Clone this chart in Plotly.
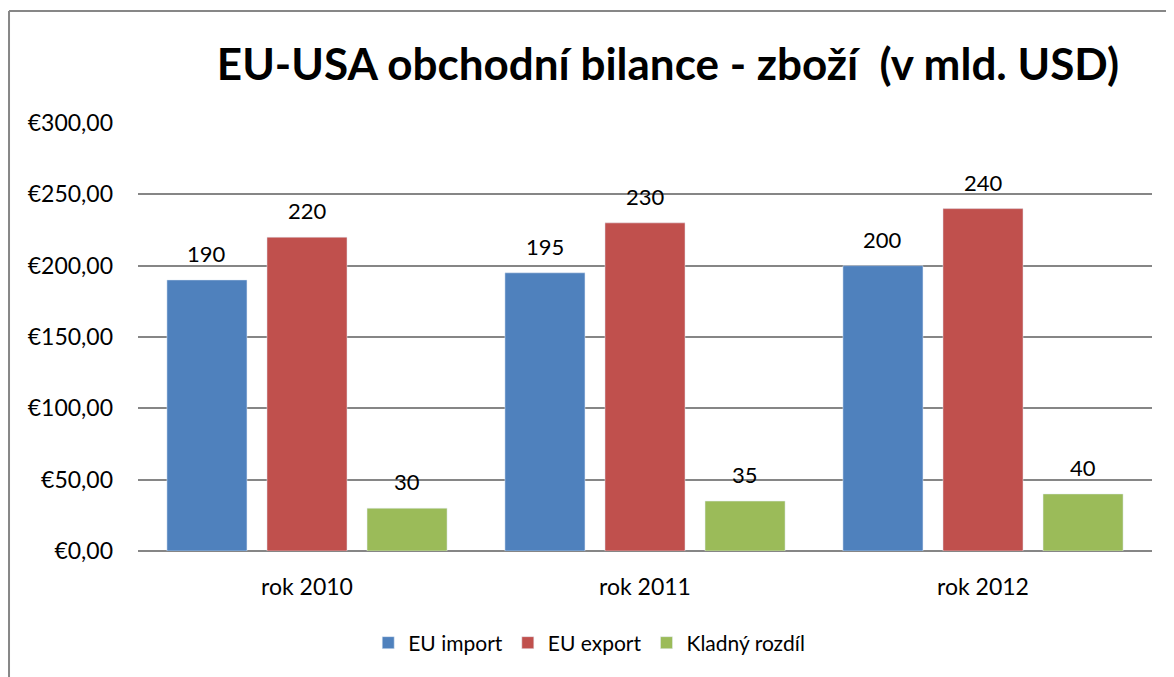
"""EU-USA goods trade balance chart — import, export and surplus bars per year.

Values are in billions of USD, one group of three bars per calendar year.
"""

from __future__ import annotations

import plotly.graph_objects as go

C_IMPORT = "#4F81BD"
C_EXPORT = "#C0504D"
C_DIFF = "#9BBB59"
C_GRID = "#868686"

FONT = "Lato"

BARGAP = 0.112
YEARS = ["rok 2010", "rok 2011", "rok 2012"]
SERIES = {
    "EU import": [190, 195, 200],
    "EU export": [220, 230, 240],
    "Kladný rozdíl": [30, 35, 40],
}


def build_trade_figure() -> go.Figure:
    """Grouped yearly import/export/surplus bars with a framed chart area."""
    fig = go.Figure()
    slot = (1.0 - BARGAP) / len(SERIES)  # width of one trace slot, in category units
    for k, ((name, ys), color) in enumerate(
        zip(SERIES.items(), (C_IMPORT, C_EXPORT, C_DIFF))
    ):
        fig.add_trace(go.Bar(x=YEARS, y=ys, name=name, marker_color=color))
        for i, v in enumerate(ys):  # value labels, lifted a bit above the bar
            fig.add_annotation(
                x=i + (k - 1) * slot, y=v, text=str(v),
                showarrow=False, yanchor="bottom", yshift=11,
                font=dict(size=22, color="black"),
            )
    fig.update_layout(
        barmode="group",
        bargap=BARGAP,
        bargroupgap=0.2,
        width=1166,
        height=669,
        margin=dict(l=130, r=22, t=115, b=126),
        separators=", ",
        font=dict(family=FONT, color="black"),
        plot_bgcolor="white",
        paper_bgcolor="white",
        showlegend=True,
        title=dict(
            text="<b>EU-USA obchodní bilance - zboží  (v mld. USD)</b>",
            x=0.566, xanchor="center",
            y=0.915, yanchor="middle",
            font=dict(size=44, family=FONT, color="black"),
        ),
        legend=dict(
            orientation="h",
            x=0.445, xanchor="center",
            y=-0.215, yanchor="middle",
            font=dict(size=21),
            itemwidth=30,
            traceorder="normal",
        ),
        shapes=[  # frame of the chart area, cut by the window on right/bottom
            dict(type="line", xref="paper", yref="paper",
                 x0=-0.1272, x1=1.1, y0=1.2617, y1=1.2617,
                 line=dict(color="#878787", width=2)),
            dict(type="line", xref="paper", yref="paper",
                 x0=-0.1272, x1=-0.1272, y0=1.2617, y1=-0.4,
                 line=dict(color="#878787", width=2)),
        ],
    )
    fig.update_xaxes(
        showgrid=False,
        showline=False,
        ticks="",
        tickfont=dict(size=23),
        ticklabelstandoff=20,
    )
    fig.update_yaxes(
        range=[0, 300],
        dtick=50,
        tickprefix="€",
        tickformat=",.2f",
        tickfont=dict(size=23),
        ticklabelstandoff=24,
        showgrid=True, gridcolor=C_GRID, gridwidth=2,
        zeroline=True, zerolinecolor=C_GRID, zerolinewidth=2,
        showline=False,
    )
    return fig


fig = build_trade_figure()
fig.write_html("out.html")
